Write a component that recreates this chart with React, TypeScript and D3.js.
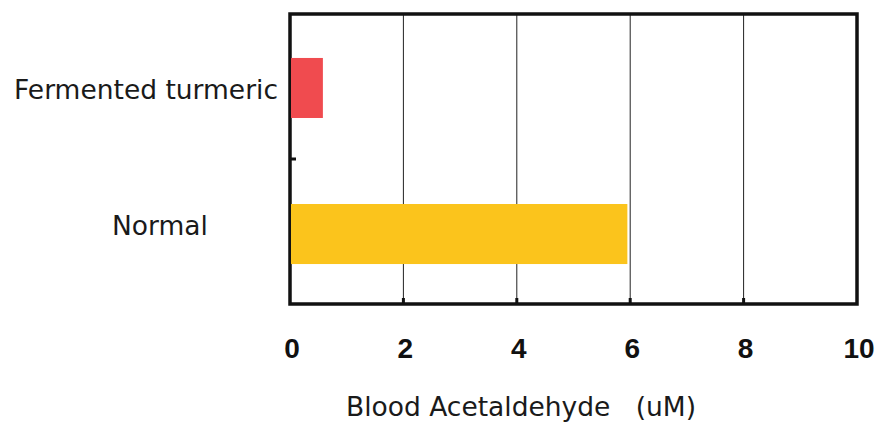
import React from "react";
import * as d3 from "d3";

const categories = ["Fermented turmeric", "Normal"];
const values = [0.58, 5.95];
const barColors = ["#F04B4F", "#FBC41C"];
const xTicks = [0, 2, 4, 6, 8, 10];
const xTitle = "Blood Acetaldehyde\u00a0\u00a0\u00a0(uM)";

const W = 876;
const H = 422;
const left = 290;
const right = 857;
const top = 14;
const bottom = 304;

export default function App() {
  const x = d3.scaleLinear().domain([0, 10]).range([left, right]);
  const y = d3.scaleBand().domain(categories).range([top, bottom + 4]).paddingInner(0.589).paddingOuter(0.301);

  const labelFont = "'DejaVu Sans', Verdana, sans-serif";

  return (
    <svg width={W} height={H} style={{ position: "absolute", left: 0, top: 0, background: "#fff" }}>
      {/* gridlines */}
      {xTicks.slice(1, -1).map(t => (
        <g key={t}>
          <line x1={x(t)} x2={x(t)} y1={top} y2={bottom} stroke="#222" strokeWidth={1} />
          <line x1={x(t)} x2={x(t)} y1={bottom - 6} y2={bottom} stroke="#111" strokeWidth={3} />
        </g>
      ))}
      {/* frame */}
      <rect x={left} y={top} width={right - left} height={bottom - top} fill="none" stroke="#111" strokeWidth={3.5} />
      {/* category boundary tick */}
      <line x1={left} x2={left + 6} y1={159} y2={159} stroke="#111" strokeWidth={3} />
      {/* bars */}
      {categories.map((c, i) => (
        <rect key={c} x={x(0) + 1} y={y(c)} width={x(values[i]) - x(0) - 1} height={y.bandwidth()} fill={barColors[i]} />
      ))}
      {/* category labels */}
      <text x={278} y={99} textAnchor="end" fontFamily={labelFont} fontSize={26.5} fill="#1a1a1a">{categories[0]}</text>
      <text x={160} y={235} textAnchor="middle" fontFamily={labelFont} fontSize={26.5} fill="#1a1a1a">{categories[1]}</text>
      {/* x tick labels */}
      {xTicks.map(t => (
        <text key={t} x={x(t) + 2} y={358} textAnchor="middle" fontFamily="'Liberation Sans', Arial, sans-serif"
          fontWeight="bold" fontSize={28} fill="#111">{t}</text>
      ))}
      <text x={521} y={416} textAnchor="middle" fontFamily={labelFont} fontSize={26.5} fill="#1a1a1a">{xTitle}</text>
    </svg>
  );
}
